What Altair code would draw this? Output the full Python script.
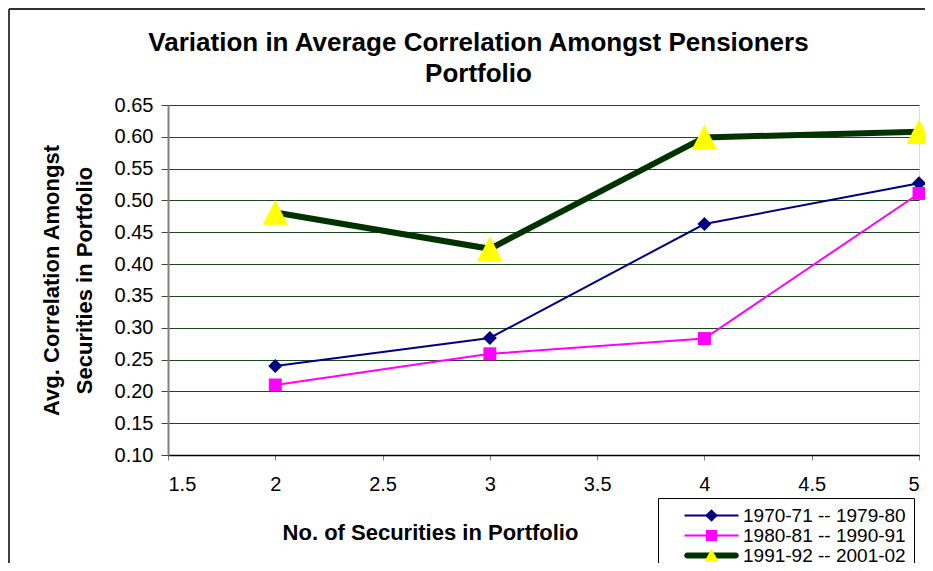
import altair as alt
import pandas as pd

# ---- data ----
securities = [2, 3, 4, 5]
series_names = ["1970-71 -- 1979-80", "1980-81 -- 1990-91", "1991-92 -- 2001-02"]
corr_1970s = [0.240, 0.284, 0.463, 0.527]
corr_1980s = [0.210, 0.259, 0.283, 0.511]
corr_1990s = [0.481, 0.424, 0.599, 0.608]
y_ticks = [0.10, 0.15, 0.20, 0.25, 0.30, 0.35, 0.40, 0.45, 0.50, 0.55, 0.60, 0.65]
x_ticks = [1.5, 2, 2.5, 3, 3.5, 4, 4.5, 5]

rows = []
for name, vals in zip(series_names, [corr_1970s, corr_1980s, corr_1990s]):
    for x, v in zip(securities, vals):
        rows.append({"n": x, "corr": v, "series": name})
df = pd.DataFrame(rows)

FONT = "Liberation Sans"
line_colors = ["#000080", "#FF00FF", "#003300"]
marker_fills = ["#000080", "#FF00FF", "#FFFF00"]

# custom marker paths (size 324 -> unit = 9px)
plot_shapes = [
    "M0,-0.78L0.78,0L0,0.78L-0.78,0Z",
    "M-0.72,-0.72L0.72,-0.72L0.72,0.72L-0.72,0.72Z",
    "M0,-1.4L1.4,1.35L-1.4,1.35Z",
]
legend_marker_shapes = [
    "M0,-0.7L0.7,0L0,0.7L-0.7,0Z",
    "M-0.62,-0.62L0.62,-0.62L0.62,0.62L-0.62,0.62Z",
    "M0,-0.75L0.8,0.7L-0.8,0.7Z",
]
legend_line_shapes = [
    "M-3,-0.11L3,-0.11L3,0.11L-3,0.11Z",
    "M-3,-0.11L3,-0.11L3,0.11L-3,0.11Z",
    "M-2.7,-0.33L2.7,-0.33A0.33,0.33 0 0 1 2.7,0.33L-2.7,0.33A0.33,0.33 0 0 1 -2.7,-0.33Z",
]

x_axis = alt.Axis(values=x_ticks, format="~g", grid=False, labelOverlap=False,
                  title="No. of Securities in Portfolio",
                  titleFontSize=22, titleFontWeight="bold", titleFont=FONT,
                  titleX=262, titleY=67, titleAnchor="middle",
                  labelFontSize=20, labelFont=FONT, labelColor="black",
                  labelPadding=14, tickSize=5, tickColor="#808080",
                  domainColor="black", domainWidth=1.5)
y_axis = alt.Axis(values=y_ticks, format=".2f", grid=True, labelOverlap=False,
                  gridColor="#1f4420", gridWidth=1,
                  title=["Avg. Correlation Amongst", "Securities in Portfolio"],
                  titleFontSize=22, titleFontWeight="bold", titleFont=FONT,
                  titleLineHeight=33, titlePadding=18,
                  labelFontSize=20, labelFont=FONT, labelColor="black",
                  labelPadding=8, tickSize=7, tickColor="#404040",
                  domainColor="#808080", domainWidth=2)
x_scale = alt.Scale(domain=[1.5, 5], nice=False, zero=False)
y_scale = alt.Scale(domain=[0.10, 0.65], nice=False, zero=False)


def xy():
    return dict(x=alt.X("n:Q", scale=x_scale, axis=x_axis),
                y=alt.Y("corr:Q", scale=y_scale, axis=y_axis))


base = alt.Chart(df)

lines = base.mark_line().encode(
    **xy(),
    color=alt.Color("series:N", scale=alt.Scale(domain=series_names, range=line_colors), legend=None),
    strokeWidth=alt.condition(alt.datum.series == series_names[2], alt.value(6), alt.value(2)),
)

points = base.mark_point(filled=True, opacity=1, size=324, strokeWidth=0, clip=False).encode(
    **xy(),
    shape=alt.Shape("series:N", scale=alt.Scale(domain=series_names, range=plot_shapes), legend=None),
    fill=alt.Fill("series:N", scale=alt.Scale(domain=series_names, range=marker_fills), legend=None),
)

common_legend = dict(orient="none", legendX=490, legendY=393, title=None,
                     symbolSize=324, symbolOffset=36, labelOffset=22, labelLimit=0,
                     labelFontSize=19, labelFont=FONT, labelColor="black",
                     rowPadding=-0.5, padding=8, symbolOpacity=1, symbolStrokeWidth=0)

legend_lines = base.mark_point(filled=True, opacity=0, size=324).encode(
    **xy(),
    shape=alt.Shape("series:N", scale=alt.Scale(domain=series_names, range=legend_line_shapes),
                    legend=alt.Legend(**common_legend, labelOpacity=0,
                                      strokeColor="black", fillColor="white")),
    fill=alt.Fill("series:N", scale=alt.Scale(domain=series_names, range=line_colors),
                  legend=alt.Legend(**common_legend, labelOpacity=0,
                                    strokeColor="black", fillColor="white")),
)

legend_markers = base.mark_point(filled=True, opacity=0, size=324).encode(
    **xy(),
    shape=alt.Shape("series:N", scale=alt.Scale(domain=series_names, range=legend_marker_shapes),
                    legend=alt.Legend(**common_legend)),
    fill=alt.Fill("series:N", scale=alt.Scale(domain=series_names, range=marker_fills),
                  legend=alt.Legend(**common_legend)),
)

frame = alt.Chart(alt.Data(values=[{}])).mark_rule(color="#333333", strokeWidth=2, clip=False).encode(
    x=alt.value(-159), x2=alt.value(760), y=alt.value(-96)
)
frame_left = alt.Chart(alt.Data(values=[{}])).mark_rule(color="black", strokeWidth=1.5, clip=False).encode(
    x=alt.value(-159), y=alt.value(-96), y2=alt.value(460)
)

chart = alt.layer(frame, frame_left, lines, points, legend_lines, legend_markers).resolve_scale(
    shape="independent", fill="independent"
).properties(
    width=751, height=350,
    padding={"left": 160, "top": 97, "right": 6, "bottom": 108},
    autosize=alt.AutoSizeParams(type="none"),
    title=alt.TitleParams(
        text=["Variation in Average Correlation Amongst Pensioners", "Portfolio"],
        fontSize=26, fontWeight="bold", font=FONT, color="black",
        anchor="middle", dx=-65, offset=-79, lineHeight=31,
    ),
).configure_view(stroke=None).configure(background="white")

chart.save("out.html", embed_options={"renderer": "svg", "actions": False})
